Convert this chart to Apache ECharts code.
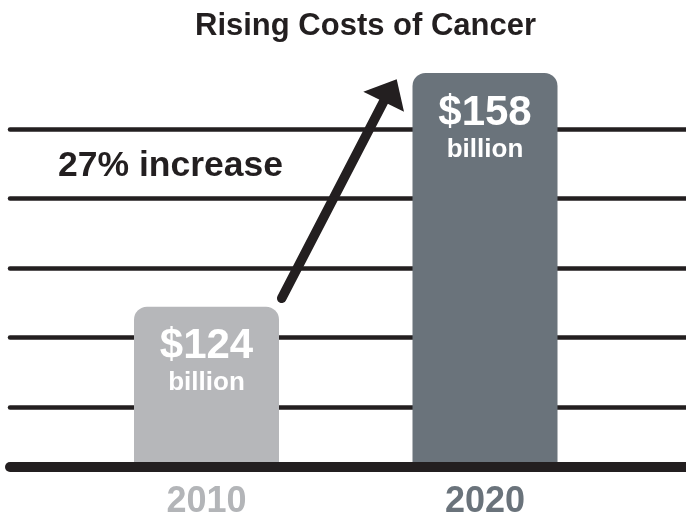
<!DOCTYPE html>
<html><head><meta charset="utf-8">
<script src="https://cdn.jsdelivr.net/npm/echarts@6/dist/echarts.min.js"></script>
<style>html,body{margin:0;padding:0;background:#fff}#c{width:686px;height:520px}</style>
</head><body><div id="c"></div>
<script>
// ---- data ----
const categories = ['2010', '2020'];
const costs = [124, 158];            // billions of dollars
const unitLabel = 'billion';
const annotation = '27% increase';
const titleText = 'Rising Costs of Cancer';
const yMin = 101.4;
const yMax = 160;

// ---- styles ----
const FONT = "'Liberation Sans', Arial, Helvetica, sans-serif";
const INK = '#231f20';
const BAR_COLORS = ['#b6b7ba', '#6a737b'];
const YEAR_COLORS = ['#b3b5b8', '#6a737b'];

const chart = echarts.init(document.getElementById('c'), null, {renderer: 'canvas'});

const gridTop = 59.25, gridBottom = 53.3;

chart.setOption({
  animation: false,
  backgroundColor: '#ffffff',
  title: {
    text: titleText,
    left: 190,
    top: 6,
    textStyle: {fontFamily: FONT, fontSize: 31, fontWeight: 'bold', color: INK}
  },
  grid: [
    {left: 67.25, right: 61.75, top: gridTop, bottom: gridBottom, containLabel: false},
    {left: 10, right: -10, top: gridTop, bottom: gridBottom, containLabel: false}
  ],
  xAxis: [
    {
      type: 'category', gridIndex: 0, data: categories,
      axisLine: {show: false}, axisTick: {show: false},
      axisLabel: {
        margin: 22, fontFamily: FONT, fontSize: 36, fontWeight: 'bold',
        color: function (v, i) { return YEAR_COLORS[categories.indexOf(v)]; }
      }
    },
    {
      type: 'value', gridIndex: 1, min: 0, max: 1, z: 5,
      axisLine: {show: true, onZero: false, lineStyle: {color: INK, width: 10, cap: 'round'}},
      axisTick: {show: false}, axisLabel: {show: false}, splitLine: {show: false}
    }
  ],
  yAxis: [
    {
      type: 'value', gridIndex: 0, min: yMin, max: yMax,
      show: false, splitLine: {show: false}
    },
    {
      type: 'value', gridIndex: 1, min: yMin, max: yMax,
      axisLine: {show: false}, axisTick: {show: false}, axisLabel: {show: false},
      splitLine: {show: true, showMinLine: false, showMaxLine: false,
        lineStyle: {color: INK, width: 4.5, cap: 'round'}}
    }
  ],
  series: [{
    type: 'bar',
    xAxisIndex: 0, yAxisIndex: 0,
    barWidth: 145,
    z: 2,
    data: costs.map((v, i) => ({value: v, itemStyle: {color: BAR_COLORS[i], borderRadius: [13, 13, 0, 0]}})),
    label: {
      show: true,
      position: 'insideTop',
      distance: 18,
      formatter: function (p) { return '{v|$' + p.value + '}\n{b|' + unitLabel + '}'; },
      rich: {
        v: {fontFamily: FONT, fontSize: 42, fontWeight: 'bold', color: '#ffffff', lineHeight: 44, align: 'center'},
        b: {fontFamily: FONT, fontSize: 26, fontWeight: 'bold', color: '#ffffff', lineHeight: 29, align: 'center'}
      }
    }
  }],
  graphic: [
    {
      type: 'text', left: 58, top: 148, z: 10,
      style: {text: annotation, fontFamily: FONT, fontSize: 35.5, fontWeight: 'bold', fill: INK}
    },
    {
      type: 'group', z: 10,
      children: [
        {type: 'line', shape: {x1: 281.7, y1: 298.3, x2: 386, y2: 97},
         style: {stroke: INK, lineWidth: 9.5, lineCap: 'round'}},
        {type: 'polygon', shape: {points: [[396.7, 79.3], [363.3, 91.7], [404, 111.7]]},
         style: {fill: INK}}
      ]
    }
  ]
});
</script>
</body></html>
